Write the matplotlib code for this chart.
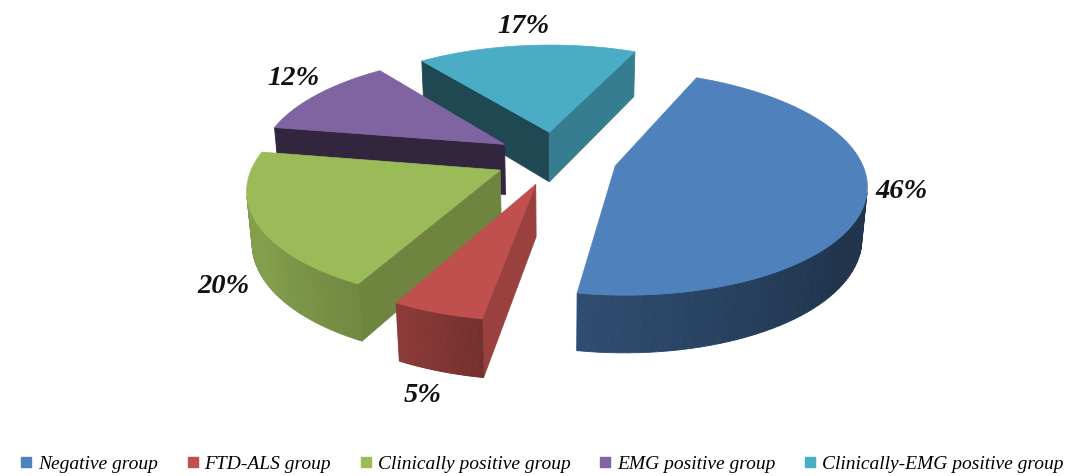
import matplotlib
matplotlib.use("Agg")
import matplotlib.pyplot as plt
from matplotlib.patches import Polygon
from matplotlib.lines import Line2D
from matplotlib.colors import to_rgb
import numpy as np

groups = ["Negative group", "FTD-ALS group", "Clinically positive group",
          "EMG positive group", "Clinically-EMG positive group"]
shares = [46, 5, 20, 12, 17]
labels = ["46%", "5%", "20%", "12%", "17%"]
colors = ["#4F81BD", "#C0504D", "#9BBB59", "#8064A2", "#4BACC6"]

# view settings (3D exploded pie, perspective)
start = 24.0        # first slice starts here, clockwise from 12 o'clock
explode = 0.25
height = 0.235
elev = np.radians(26)
dist = 6.0
focal = 1470.0
x0, y0 = 556.0, 158.0

cam = np.array([0.0, -dist * np.cos(elev), dist * np.sin(elev)])


def project(p):
    x, y, z = p
    depth = dist + y * np.cos(elev) - z * np.sin(elev)
    sx = focal * x / depth
    sy = focal * (y * np.sin(elev) + z * np.cos(elev)) / depth
    return x0 + sx, y0 - sy


def direction(a):
    r = np.radians(a)
    return np.array([np.sin(r), np.cos(r), 0.0])


def shade(c, f):
    return tuple(np.clip(np.array(to_rgb(c)) * f, 0, 1))


def side_factor(phi):
    phi = phi % 360
    return np.interp(phi, [0, 90, 115, 190, 235, 270, 360],
                     [0.8, 0.85, 0.72, 0.38, 0.42, 0.45, 0.8])


def wall_factor(phi):
    phi = phi % 360
    return np.interp(phi, [0, 90, 125, 190, 205, 240, 280, 360],
                     [0.4, 0.4, 0.4, 0.6, 0.72, 0.85, 0.85, 0.4])


def visible(p, n):
    return np.dot(n, cam - p) > 0


fig = plt.figure(figsize=(10.84, 4.76), dpi=100)
ax = fig.add_axes([0, 0, 1, 1])
ax.set_xlim(0, 1084)
ax.set_ylim(476, 0)
ax.axis("off")

spans = np.array(shares) / sum(shares) * 360
edges = start + np.concatenate([[0], np.cumsum(spans)])

slices = []
for i in range(len(shares)):
    a0, a1 = edges[i], edges[i + 1]
    mid = (a0 + a1) / 2
    apex = explode * direction(mid)
    slices.append((i, a0, a1, mid, apex))

# paint far slices first
slices.sort(key=lambda s: -(s[4][1] + 0.5 * direction(s[3])[1]))

down = np.array([0, 0, -height])
label_pos = {}
for i, a0, a1, mid, apex in slices:
    col = colors[i]
    angs = np.linspace(a0, a1, 80)
    rim = [apex + direction(a) for a in angs]

    # radial faces
    for a, nphi in [(a0, a0 - 90), (a1, a1 + 90)]:
        n = direction(nphi)
        p = apex + direction(a)
        if visible((apex + p) / 2 + down / 2, n):
            quad = [apex, p, p + down, apex + down]
            fc = shade(col, side_factor(nphi))
            ax.add_patch(Polygon([project(q) for q in quad], closed=True,
                                 facecolor=fc, edgecolor=fc, lw=0.6))

    # outer wall, segment by segment
    for k in range(len(angs) - 1):
        am = (angs[k] + angs[k + 1]) / 2
        n = direction(am)
        pm = apex + n + down / 2
        if visible(pm, n):
            quad = [rim[k], rim[k + 1], rim[k + 1] + down, rim[k] + down]
            fc = shade(col, wall_factor(am))
            ax.add_patch(Polygon([project(q) for q in quad], closed=True,
                                 facecolor=fc, edgecolor=fc, lw=0.6))

    # top
    top = [apex] + rim
    ax.add_patch(Polygon([project(q) for q in top], closed=True,
                         facecolor=col, edgecolor=col, lw=0.5))

    d = direction(mid)
    if d[1] < -0.4:
        lp = apex + 1.15 * d + down
    else:
        lp = apex + 1.13 * d + np.array([0, 0, 0.05])
    label_pos[i] = project(lp)

for i in range(len(shares)):
    x, y = label_pos[i]
    ax.text(x, y, labels[i], ha="center", va="center", fontsize=20.5,
            fontweight="bold", fontstyle="italic",
            family=["Liberation Serif", "DejaVu Serif"], color="#111111")

handles = [Line2D([], [], marker="s", ls="none", markersize=7, color=c) for c in colors]
ax.legend(handles, groups, loc="lower center", bbox_to_anchor=(0.5, -0.03), ncol=5,
          frameon=False, handlelength=0.6, handletextpad=0.3, columnspacing=1.5,
          prop={"family": ["Liberation Serif", "DejaVu Serif"], "style": "italic", "size": 14})

fig.savefig("out.png", dpi=100)
